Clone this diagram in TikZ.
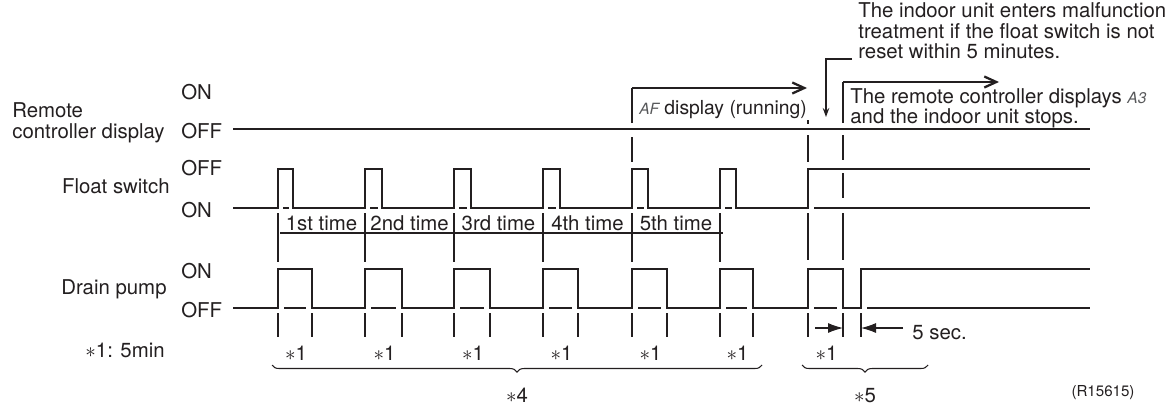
\documentclass[tikz,border=0pt]{standalone}
\usepackage{fontspec}
\setmainfont{TeX Gyre Heros}
\usetikzlibrary{arrows.meta,decorations.pathreplacing}
\definecolor{chartink}{HTML}{231F20}
\definecolor{segink}{HTML}{58595B}
\newcommand{\chartfont}{\fontsize{11.6}{12}\selectfont}
\newcommand{\segtext}[1]{{\color{segink}\itshape\fontsize{8.8}{8.8}\selectfont #1}}
\tikzset{
  sigline/.style={draw=chartink, line width=1.6pt, line join=miter},
  baseref/.style={draw=chartink, line width=.6pt},
  guideline/.style={draw=chartink, line width=.6pt},
  chartlabel/.style={font=\chartfont, text=chartink, inner sep=0pt},
  smalllabel/.style={font=\fontsize{8.6}{9}\selectfont, text=chartink, inner sep=0pt},
  noteflow/.style={-{Straight Barb[length=2.4mm,width=2.2mm]}, draw=chartink, line width=1.3pt},
  pointer/.style={-{Stealth[length=1.8mm,width=1.3mm]}, draw=chartink, line width=.6pt},
  secflow/.style={-{Latex[length=3mm,width=2mm]}, draw=chartink, line width=.6pt},
  spanbrace/.style={draw=chartink, line width=.6pt, decorate,
    decoration={brace, mirror, amplitude=4pt}}
}

\begin{document}
\begin{tikzpicture}[x=.02cm,y=-.02cm]
  % pixel grid of the sheet, y down
  \useasboundingbox (0,0) rectangle (1176,406);

  % row titles and levels
  \node[chartlabel, anchor=base west] (remote) at (12,117) {Remote};
  \node[chartlabel, anchor=base west] (remote2) at (12,138) {controller display};
  \node[chartlabel, anchor=base west] (remoteon) at (181,99) {ON};
  \node[chartlabel, anchor=base west] (remoteoff) at (181,138) {OFF};
  \node[chartlabel, anchor=base east] (float) at (170,193) {Float switch};
  \node[chartlabel, anchor=base west] (floatoff) at (181,175) {OFF};
  \node[chartlabel, anchor=base west] (floaton) at (181,217) {ON};
  \node[chartlabel, anchor=base east] (drain) at (167,294) {Drain pump};
  \node[chartlabel, anchor=base west] (drainon) at (181,278) {ON};
  \node[chartlabel, anchor=base west] (drainoff) at (181,317) {OFF};
  \node[chartlabel, anchor=base east] (key) at (165,357) {$\ast$1: 5min};

  % remote controller display
  \draw[sigline] (233,129) -- (1090,129);

  % float switch
  \draw[sigline] (233,208)
    \foreach \a/\b in {278/293,365/382,454/471,543/560,632/648,720/736} {
      -- (\a,208) -- (\a,169) -- (\b,169) -- (\b,208) }
    -- (808,208) -- (808,169) -- (1090,169);
  \foreach \a/\b in {278/293,365/382,454/471,543/560,632/648,720/736}
    \draw[baseref] (\a+5,208) -- (\b-4,208);
  \draw[baseref] (814,208) -- (1090,208);

  % drain pump
  \draw[sigline] (233,308)
    \foreach \a/\b in {278/312,365/402,454/490,543/578,632/667,720/753,808/843} {
      -- (\a,308) -- (\a,269) -- (\b,269) -- (\b,308) }
    -- (861,308) -- (861,269) -- (1090,269);
  \foreach \a/\b in {278/312,365/402,454/490,543/578,632/667,720/753,808/843}
    \draw[baseref] (\a+6,308) -- (\b-6,308);
  \draw[baseref] (867,308) -- (1090,308);

  % counts of the float switch
  \foreach \x in {278,365,454,543,632,720}
    \draw[guideline] (\x,213) -- (\x,262);
  \draw[guideline] (280,233) -- (723,233);
  \foreach \a/\b/\txt [count=\i] in {278/365/1st time,365/454/2nd time,
      454/543/3rd time,543/632/4th time,632/720/5th time}
    \node[chartlabel, anchor=base] (time\i) at ({(\a+\b)/2},230) {\txt};

  % run times of the pump
  \foreach \x in {278,312,365,402,454,490,543,578,632,667,720,753,808,843,861}
    \draw[guideline] (\x,313) -- (\x,337);
  \foreach \a/\b [count=\i] in {278/312,365/402,454/490,543/578,632/667,720/753,808/843}
    \node[chartlabel, anchor=base] (run\i) at ({(\a+\b)/2+1},360) {$\ast$1};

  % guides of the fault
  \draw[guideline] (632,137) -- (632,162);
  \draw[guideline] (808,120) -- (808,124);
  \draw[guideline] (808,135) -- (808,162);
  \draw[guideline] (808,213) -- (808,260);
  \draw[guideline] (843,135) -- (843,160);
  \draw[guideline] (843,173) -- (843,198);
  \draw[guideline] (843,213) -- (843,260);

  % AF display
  \coordinate (afbase) at (632,123);
  \coordinate (afstart) at (632,88);
  \coordinate (afend) at (807,88);
  \draw[guideline] (afbase) -- (afstart);
  \draw[noteflow] (afstart) -- (afend);
  \node[chartlabel, font=\fontsize{11}{12}\selectfont, anchor=base west] (aftext) at (639,114)
    {\segtext{AF}\ display (running)};

  % malfunction note
  \node[chartlabel, anchor=base west] (note1) at (858,17) {The indoor unit enters malfunction};
  \node[chartlabel, anchor=base west] (note2) at (858,38) {treatment if the float switch is not};
  \node[chartlabel, anchor=base west] (note3) at (858,58) {reset within 5 minutes.};
  \coordinate (notebend) at (826,59);
  \coordinate (notetip) at (826,117);
  \draw[pointer] (note3.west |- notebend) ++(-6,0) -- (notebend) -- (notetip);

  % A3 display
  \coordinate (a3base) at (843,123);
  \coordinate (a3start) at (843,82);
  \coordinate (a3end) at (999,82);
  \draw[guideline] (a3base) -- (a3start);
  \draw[noteflow] (a3start) -- (a3end);
  \node[chartlabel, anchor=base west] (stop1) at (850,103)
    {The remote controller displays \segtext{A3}};
  \node[chartlabel, anchor=base west] (stop2) at (850,123) {and the indoor unit stops.};

  % 5 sec.
  \coordinate (secleft) at (815,328);
  \coordinate (secright) at (903,328);
  \draw[secflow] (secleft) -- (843,328);
  \draw[secflow] (secright) -- (861,328);
  \node[chartlabel, anchor=base west] (sec) at (912,339) {5 sec.};

  % spans
  \draw[spanbrace] (272,365) -- (762,365);
  \node[chartlabel, anchor=base] (span4) at (517,402) {$\ast$4};
  \draw[spanbrace] (802,365) -- (928,365);
  \node[chartlabel, anchor=base] (span5) at (865,402) {$\ast$5};

  \node[smalllabel, anchor=base] (figno) at (1103,396) {(R15615)};
\end{tikzpicture}
\end{document}
